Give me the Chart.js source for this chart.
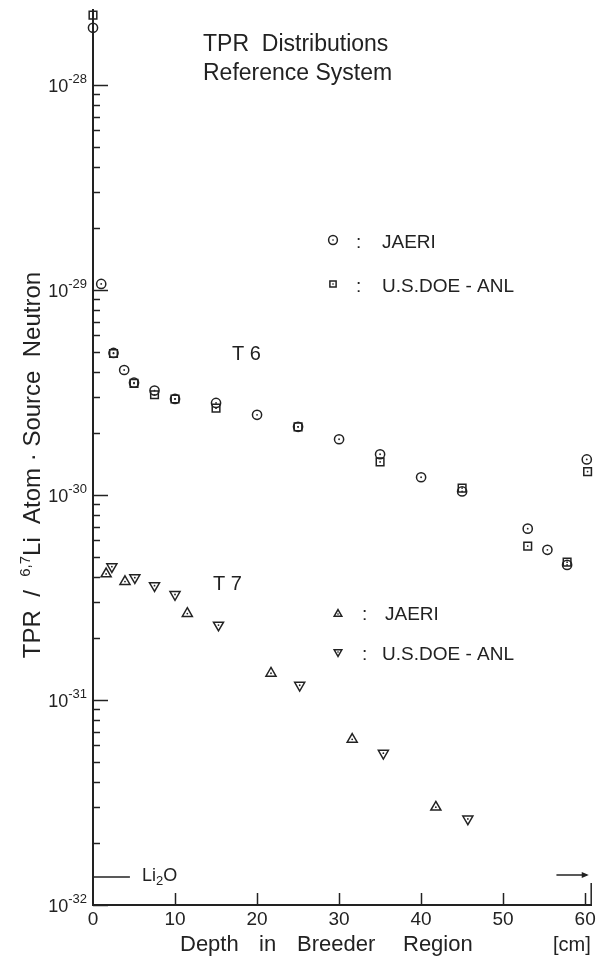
<!DOCTYPE html>
<html>
<head>
<meta charset="utf-8">
<script src="https://cdn.jsdelivr.net/npm/chart.js@4.4.0/dist/chart.umd.min.js"></script>
<style>
  html, body { margin: 0; padding: 0; background: #fff; }
  canvas { display: block; }
</style>
</head>
<body>
<canvas id="tprChart" width="599" height="956"></canvas>
<script>
// T6 : tritium production on 6Li
const t6JaeriDepth = [0, 1, 2.5, 3.8, 5, 7.5, 10, 15, 20, 25, 30, 35, 40, 45, 53, 55.4, 57.8, 60.2];
const t6JaeriTpr = [1.90e-28, 1.07e-29, 4.93e-30, 4.07e-30, 3.53e-30, 3.23e-30, 2.94e-30, 2.81e-30, 2.46e-30,
  2.15e-30, 1.87e-30, 1.58e-30, 1.22e-30, 1.04e-30, 6.85e-31, 5.40e-31, 4.56e-31, 1.49e-30];
const t6AnlDepth = [0, 2.5, 5, 7.5, 10, 15, 25, 35, 45, 53, 57.8, 60.3];
const t6AnlTpr = [2.19e-28, 4.9e-30, 3.5e-30, 3.08e-30, 2.94e-30, 2.65e-30, 2.15e-30, 1.45e-30, 1.08e-30,
  5.63e-31, 4.7e-31, 1.30e-30];

// T7 : tritium production on 7Li
const t7JaeriDepth = [1.6, 3.9, 11.5, 21.7, 31.6, 41.8];
const t7JaeriTpr = [4.12e-31, 3.78e-31, 2.64e-31, 1.35e-31, 6.43e-32, 3.0e-32];
const t7AnlDepth = [2.3, 5.1, 7.5, 10.0, 15.3, 25.2, 35.4, 45.7];
const t7AnlTpr = [4.47e-31, 3.95e-31, 3.61e-31, 3.27e-31, 2.32e-31, 1.18e-31, 5.5e-32, 2.63e-32];

const xTickValues = [0, 10, 20, 30, 40, 50, 60];
const yDecadeExps = [-32, -31, -30, -29, -28];

const INK = '#222';
const FONT = '"Liberation Sans", Arial, sans-serif';

const toPoints = (xs, ys) => xs.map((x, i) => ({ x: x, y: ys[i] }));

// minor ticks 1..9 in every decade, up to 10^-28
const yTickValues = [];
for (let i = 0; i < yDecadeExps.length - 1; i++) {
  for (let m = 1; m <= 9; m++) yTickValues.push(m * Math.pow(10, yDecadeExps[i]));
}
yTickValues.push(Math.pow(10, yDecadeExps[yDecadeExps.length - 1]));

function isDecade(v) {
  const l = Math.log10(v);
  return Math.abs(l - Math.round(l)) < 1e-6;
}

// draw pieces of text with their own size and vertical shift (for super/subscripts)
function drawRuns(ctx, runs, x, y, align) {
  let total = 0;
  runs.forEach(r => { ctx.font = r[1] + 'px ' + FONT; total += ctx.measureText(r[0]).width; });
  let cx = align === 'center' ? x - total / 2 : (align === 'right' ? x - total : x);
  ctx.textAlign = 'left';
  ctx.textBaseline = 'alphabetic';
  runs.forEach(r => {
    ctx.font = r[1] + 'px ' + FONT;
    ctx.fillText(r[0], cx, y + r[2]);
    cx += ctx.measureText(r[0]).width;
  });
}

function legendMarker(ctx, style, rotation, x, y) {
  ctx.fillStyle = 'rgba(0,0,0,0)';
  Chart.helpers.drawPoint(ctx, { pointStyle: style, rotation: rotation, radius: 4.4, borderWidth: 1.3 }, x, y);
  ctx.fillStyle = INK;
  ctx.fillRect(x - 0.7, y - 0.7, 1.4, 1.4);
}

const annotations = {
  id: 'tprAnnotations',
  afterDatasetsDraw(chart) {
    // small dot in the middle of every marker
    const ctx = chart.ctx;
    ctx.save();
    ctx.fillStyle = INK;
    chart.data.datasets.forEach((ds, i) => {
      chart.getDatasetMeta(i).data.forEach(el => {
        ctx.beginPath();
        ctx.arc(el.x, el.y, 0.9, 0, Math.PI * 2);
        ctx.fill();
      });
    });
    ctx.restore();
  },
  afterDraw(chart) {
    const { ctx, chartArea: area, scales: { x, y } } = chart;
    ctx.save();
    ctx.strokeStyle = INK;
    ctx.fillStyle = INK;
    ctx.lineWidth = 1.5;

    // inward ticks on y
    y.ticks.forEach(t => {
      const py = Math.round(y.getPixelForValue(t.value)) + 0.5;
      const len = isDecade(t.value) ? 15 : 7;
      ctx.beginPath();
      ctx.moveTo(area.left, py);
      ctx.lineTo(area.left + len, py);
      ctx.stroke();
    });
    // inward ticks on x
    x.ticks.forEach(t => {
      if (t.value === 0) return;
      const px = Math.round(x.getPixelForValue(t.value)) + 0.5;
      ctx.beginPath();
      ctx.moveTo(px, area.bottom);
      ctx.lineTo(px, area.bottom - 12);
      ctx.stroke();
    });

    // y tick labels 10^n
    yDecadeExps.forEach(e => {
      const py = y.getPixelForValue(Math.pow(10, e));
      drawRuns(ctx, [['10', 18, 0], [String(e), 13, -9]], area.left - 6, py + 7, 'right');
    });

    // y axis title, reading upwards
    ctx.save();
    ctx.translate(40, 465);
    ctx.rotate(-Math.PI / 2);
    drawRuns(ctx, [['TPR  /  ', 24, 0], ['6,7', 15, -10], ['Li  Atom · Source  Neutron', 24, 0]], 0, 0, 'center');
    ctx.restore();

    // x axis title and unit
    drawRuns(ctx, [['Depth', 22, 0]], 180, 951, 'left');
    drawRuns(ctx, [['in', 22, 0]], 259, 951, 'left');
    drawRuns(ctx, [['Breeder', 22, 0]], 297, 951, 'left');
    drawRuns(ctx, [['Region', 22, 0]], 403, 951, 'left');
    drawRuns(ctx, [['[cm]', 20, 0]], 553, 951, 'left');

    // chart title
    drawRuns(ctx, [['TPR  Distributions', 23, 0]], 203, 51, 'left');
    drawRuns(ctx, [['Reference System', 23, 0]], 203, 80, 'left');

    // curve labels
    drawRuns(ctx, [['T 6', 20, 0]], 232, 360, 'left');
    drawRuns(ctx, [['T 7', 20, 0]], 213, 590, 'left');

    // legends
    legendMarker(ctx, 'circle', 0, 333, 240);
    drawRuns(ctx, [[':', 19, 0]], 356, 248, 'left');
    drawRuns(ctx, [['JAERI', 19, 0]], 382, 248, 'left');
    legendMarker(ctx, 'rect', 0, 333, 284);
    drawRuns(ctx, [[':', 19, 0]], 356, 292, 'left');
    drawRuns(ctx, [['U.S.DOE - ANL', 19, 0]], 382, 292, 'left');

    legendMarker(ctx, 'triangle', 0, 338, 614);
    drawRuns(ctx, [[':', 19, 0]], 362, 620, 'left');
    drawRuns(ctx, [['JAERI', 19, 0]], 385, 620, 'left');
    legendMarker(ctx, 'triangle', 180, 338, 652);
    drawRuns(ctx, [[':', 19, 0]], 362, 660, 'left');
    drawRuns(ctx, [['U.S.DOE - ANL', 19, 0]], 382, 660, 'left');

    // Li2O region marker
    ctx.strokeStyle = INK;
    ctx.lineWidth = 1.5;
    const liY = area.bottom - 28;
    ctx.beginPath();
    ctx.moveTo(x.getPixelForValue(0), liY);
    ctx.lineTo(x.getPixelForValue(4.5), liY);
    ctx.stroke();
    drawRuns(ctx, [['Li', 18, 0], ['2', 13, 4], ['O', 18, 0]], 142, liY + 4, 'left');

    // arrow at the far end of the breeder region
    const arY = area.bottom - 30;
    const ax1 = x.getPixelForValue(56.5), ax2 = x.getPixelForValue(60.2);
    ctx.beginPath();
    ctx.moveTo(ax1, arY);
    ctx.lineTo(ax2, arY);
    ctx.stroke();
    ctx.beginPath();
    ctx.moveTo(ax2 + 2, arY);
    ctx.lineTo(ax2 - 5, arY - 3);
    ctx.lineTo(ax2 - 5, arY + 3);
    ctx.closePath();
    ctx.fill();
    ctx.beginPath();
    ctx.moveTo(area.right - 0.5, area.bottom);
    ctx.lineTo(area.right - 0.5, area.bottom - 22);
    ctx.stroke();

    ctx.restore();
  }
};

const markerBase = {
  borderColor: INK,
  backgroundColor: 'rgba(0,0,0,0)',
  borderWidth: 1.5
};

new Chart(document.getElementById('tprChart').getContext('2d'), {
  type: 'scatter',
  data: {
    datasets: [
      Object.assign({ label: 'T6 JAERI', data: toPoints(t6JaeriDepth, t6JaeriTpr), pointStyle: 'circle', pointRadius: 4.6 }, markerBase),
      Object.assign({ label: 'T6 U.S.DOE-ANL', data: toPoints(t6AnlDepth, t6AnlTpr), pointStyle: 'rect', pointRadius: 5.4 }, markerBase),
      Object.assign({ label: 'T7 JAERI', data: toPoints(t7JaeriDepth, t7JaeriTpr), pointStyle: 'triangle', pointRadius: 5.8 }, markerBase),
      Object.assign({ label: 'T7 U.S.DOE-ANL', data: toPoints(t7AnlDepth, t7AnlTpr), pointStyle: 'triangle', pointRotation: 180, pointRadius: 5.8 }, markerBase)
    ]
  },
  options: {
    responsive: false,
    animation: false,
    devicePixelRatio: 1,
    clip: false,
    layout: { padding: { top: 10, right: 2, left: 0, bottom: 0 } },
    plugins: { legend: { display: false }, tooltip: { enabled: false } },
    scales: {
      x: {
        type: 'linear',
        min: 0,
        max: 60.8,
        afterFit(scale) { scale.height = 51; },
        afterBuildTicks(scale) { scale.ticks = xTickValues.map(v => ({ value: v })); },
        grid: { display: false, drawTicks: false },
        border: { display: true, color: INK, width: 2 },
        ticks: { color: INK, font: { family: FONT, size: 19 }, padding: 3, maxRotation: 0, autoSkip: false }
      },
      y: {
        type: 'logarithmic',
        min: 1e-32,
        max: 2.32e-28,
        afterFit(scale) { scale.width = 93; },
        afterBuildTicks(scale) { scale.ticks = yTickValues.map(v => ({ value: v })); },
        grid: { display: false, drawTicks: false },
        border: { display: true, color: INK, width: 2 },
        ticks: { display: false }
      }
    }
  },
  plugins: [annotations]
});
</script>
</body>
</html>
